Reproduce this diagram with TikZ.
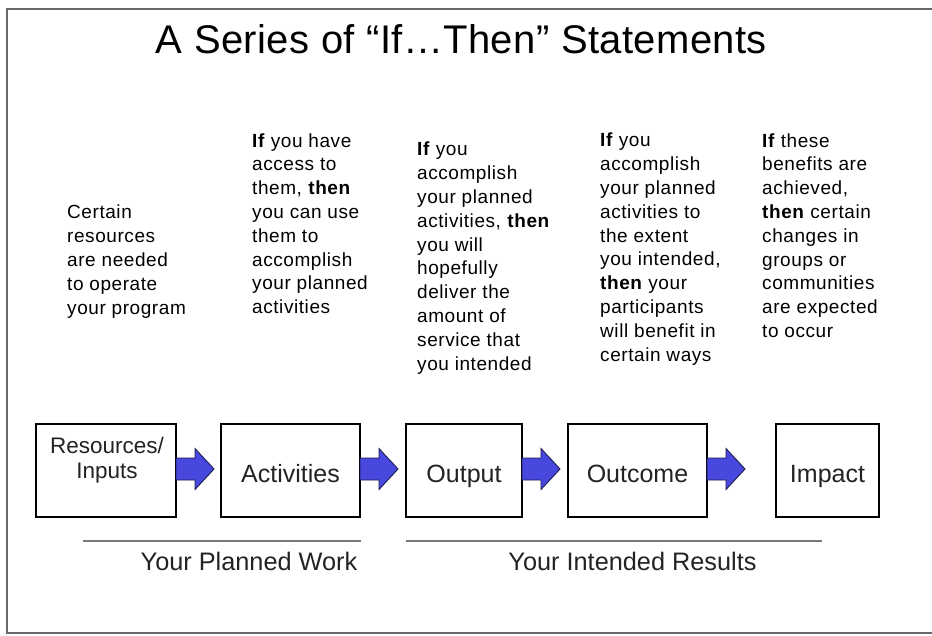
\documentclass[tikz,border=0pt]{standalone}
\usepackage{fontspec}
\setmainfont{Liberation Sans}
\newfontfamily\bodyfont[LetterSpace=3]{Liberation Sans}
\newfontfamily\titlefont[LetterSpace=1]{Liberation Sans}
\usetikzlibrary{calc}
\definecolor{arrowblue}{RGB}{72,72,222}
\definecolor{arrowedge}{RGB}{28,28,80}
\definecolor{framegray}{RGB}{105,105,105}
\definecolor{rulegray}{RGB}{120,120,120}
\definecolor{labelgray}{RGB}{35,35,35}
\tikzset{
  stagebox/.style={draw=black, line width=1.3pt, inner sep=0pt, outer sep=0pt, minimum height=93pt},
  boxlabel/.style={anchor=base, inner sep=0pt, text=labelgray, font=\fontsize{25}{30}\selectfont},
  smalllabel/.style={anchor=base, inner sep=0pt, text=labelgray, align=center, font=\fontsize{22.5}{25}\selectfont},
  bodytext/.style={anchor=base west, inner sep=0pt, align=left, text=black, font=\bodyfont\fontsize{19}{23.8}\selectfont},
  grouplabel/.style={anchor=base, inner sep=0pt, text=labelgray, font=\fontsize{25.3}{30}\selectfont},
  grouprule/.style={draw=rulegray, line width=1.4pt},
  fatarrow/.pic={\draw[fill=arrowblue, draw=arrowedge, line width=0.9pt, line join=miter]
      (0,-12.5) -- (19,-12.5) -- (19,-22) -- (38,-1.5) -- (19,19) -- (19,9.5) -- (0,9.5) -- cycle;}
}
\begin{document}
\begin{tikzpicture}[x=1pt,y=-1pt]
\useasboundingbox (0,0) rectangle (932,635);
\fill[white] (0,0) rectangle (932,635);
% frame
\draw[framegray, line width=1.6pt] (945,9) -- (7,9) -- (7,633) -- (945,633);
% title
\node[anchor=base, inner sep=0pt, font=\titlefont\fontsize{40}{48}\selectfont] (title) at (461.5,53) {A Series of “If…Then” Statements};
% explanatory columns (anchored at the baseline of their last line)
\node[bodytext] (t1) at (67,314) {Certain\\resources\\are needed\\to operate\\your program};
\node[bodytext] (t2) at (252,313.6) {\textbf{If} you have\\access to\\them, \textbf{then}\\you can use\\them to\\accomplish\\your planned\\activities};
\node[bodytext] (t3) at (417,370) {\textbf{If} you\\accomplish\\your planned\\activities, \textbf{then}\\you will\\hopefully\\deliver the\\amount of\\service that\\you intended};
\node[bodytext] (t4) at (600,361) {\textbf{If} you\\accomplish\\your planned\\activities to\\the extent\\you intended,\\\textbf{then} your\\participants\\will benefit in\\certain ways};
\node[bodytext] (t5) at (762,337.4) {\textbf{If} these\\benefits are\\achieved,\\\textbf{then} certain\\changes in\\groups or\\communities\\are expected\\to occur};
% boxes
\node[stagebox, minimum width=140pt] (res) at (106,470.5) {};
\node[stagebox, minimum width=139pt] (act) at (290.5,470.5) {};
\node[stagebox, minimum width=116pt] (out) at (464,470.5) {};
\node[stagebox, minimum width=139pt] (outc) at (637.5,470.5) {};
\node[stagebox, minimum width=103pt] (imp) at (827.5,470.5) {};
% box labels
\node[smalllabel] (resL1) at (107,453) {Resources/};
\node[smalllabel] (resL2) at (107,478) {Inputs};
\node[boxlabel] (actL) at (290.5,482) {Activities};
\node[boxlabel] (outL) at (464,482) {Output};
\node[boxlabel] (outcL) at (637.5,482) {Outcome};
\node[boxlabel] (impL) at (827.5,482) {Impact};
% arrows
\pic at (res.east) {fatarrow};
\pic at (act.east) {fatarrow};
\pic at (out.east) {fatarrow};
\pic at (outc.east) {fatarrow};
% group rules and labels
\coordinate (pwA) at (83,541);
\coordinate (pwB) at (361,541);
\coordinate (irA) at (406,541);
\coordinate (irB) at (822,541);
\draw[grouprule] (pwA) -- (pwB);
\draw[grouprule] (irA) -- (irB);
\node[grouplabel] (pw) at (249,570) {Your Planned Work};
\node[grouplabel] (ir) at (632.5,570) {Your Intended Results};
\end{tikzpicture}
\end{document}
